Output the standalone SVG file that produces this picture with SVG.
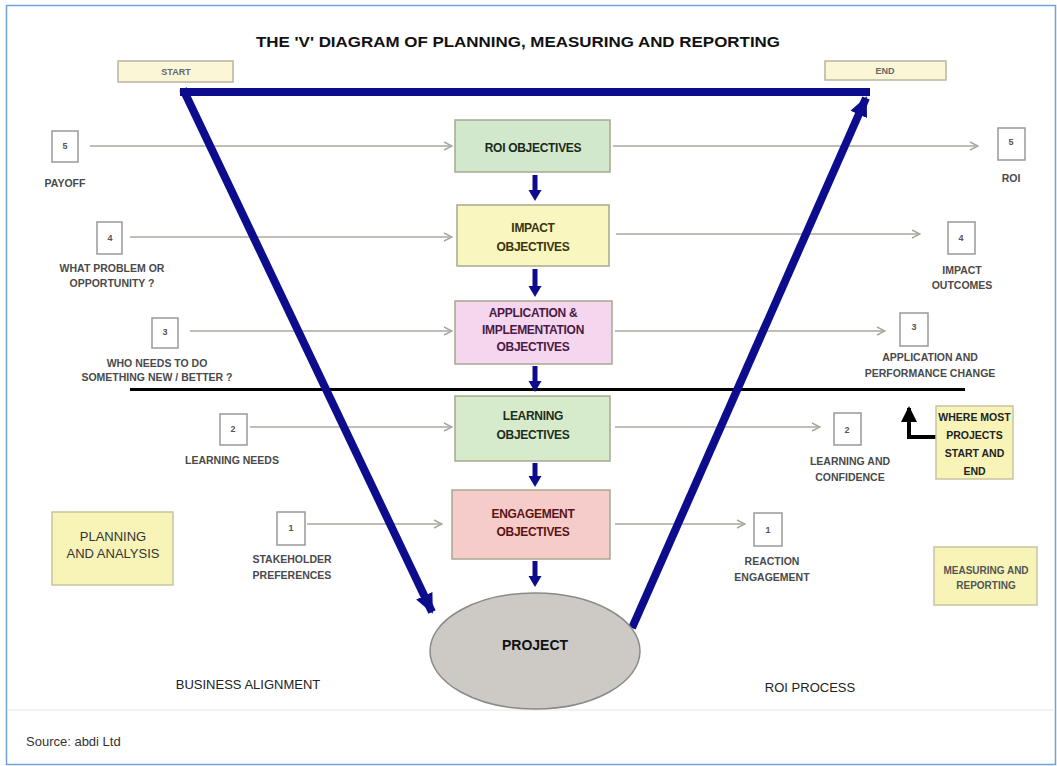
<svg xmlns="http://www.w3.org/2000/svg" width="1057" height="766" viewBox="0 0 1057 766">
<defs>
<style>
text{font-family:"Liberation Sans",Arial,sans-serif;}
.obj{stroke:#a8a890;stroke-width:1.5;}
.ot{font-size:12px;font-weight:bold;text-anchor:middle;letter-spacing:-0.3px;}
.nb{fill:#fff;stroke:#999;stroke-width:1.5;}
.nt{font-size:9px;font-weight:bold;fill:#555;text-anchor:middle;}
.lb{font-size:10.5px;font-weight:bold;fill:#4a4a4a;text-anchor:middle;}
.ga{stroke:#a8a8a0;stroke-width:1.5;fill:none;marker-end:url(#open);}
.v{stroke:#0c0c8c;stroke-width:8;fill:none;}
.da{stroke:#0c0c8c;stroke-width:5;fill:none;marker-end:url(#blue);}
.ybox{fill:#f8f4b8;stroke:#c8c4a0;stroke-width:1.5;}
.wm{font-size:10.5px;font-weight:bold;text-anchor:middle;fill:#222;}
</style>
<marker id="open" markerWidth="10" markerHeight="10" refX="9" refY="5" orient="auto" markerUnits="userSpaceOnUse">
<path d="M1,1 L9,5 L1,9" fill="none" stroke="#a8a8a0" stroke-width="1.5"/>
</marker>
<marker id="blue" markerWidth="12" markerHeight="14" refX="2" refY="7" orient="auto" markerUnits="userSpaceOnUse">
<path d="M0,0.5 L11,7 L0,13.5 Z" fill="#0c0c8c"/>
</marker>
<marker id="bigblue" markerWidth="24" markerHeight="24" refX="18" refY="12" orient="auto" markerUnits="userSpaceOnUse">
<path d="M0,3 L20,12 L0,21 Z" fill="#0c0c8c"/>
</marker>
<marker id="blk" markerWidth="20" markerHeight="20" refX="14" refY="10" orient="auto" markerUnits="userSpaceOnUse">
<path d="M0,2 L16,10 L0,18 Z" fill="#000"/>
</marker>
</defs>
<rect x="0" y="0" width="1057" height="766" fill="#fff"/>
<rect x="6.5" y="5.5" width="1049" height="759" fill="none" stroke="#6fa3d8" stroke-width="1.5"/>
<line x1="7" y1="710" x2="1055" y2="710" stroke="#eeeeee" stroke-width="1.5"/>

<text x="256" y="47" font-size="15" font-weight="bold" fill="#111" textLength="524" lengthAdjust="spacingAndGlyphs">THE 'V' DIAGRAM OF PLANNING, MEASURING AND REPORTING</text>

<g id="start"><rect x="118" y="61" width="115" height="21" fill="#fbf6d6" stroke="#b8b4a0" stroke-width="1.5"/><text x="176" y="75" font-size="9" font-weight="bold" fill="#666" text-anchor="middle">START</text></g>
<g id="end"><rect x="825" y="61" width="121" height="19" fill="#fbf6d6" stroke="#b8b4a0" stroke-width="1.5"/><text x="885" y="74" font-size="9" font-weight="bold" fill="#666" text-anchor="middle">END</text></g>

<g id="connectors">
<line class="ga" x1="90" y1="146" x2="452" y2="146"/>
<line class="ga" x1="130" y1="237" x2="452" y2="237"/>
<line class="ga" x1="190" y1="331" x2="452" y2="331"/>
<line class="ga" x1="250" y1="427" x2="452" y2="427"/>
<line class="ga" x1="307" y1="524" x2="442" y2="524"/>
<line class="ga" x1="613" y1="146" x2="978" y2="146"/>
<line class="ga" x1="616" y1="234" x2="920" y2="234"/>
<line class="ga" x1="615" y1="331" x2="885" y2="331"/>
<line class="ga" x1="615" y1="427" x2="820" y2="427"/>
<line class="ga" x1="615" y1="524" x2="745" y2="524"/>
<line x1="130" y1="389.5" x2="965" y2="389.5" stroke="#000" stroke-width="3"/>
<line class="da" x1="535" y1="175" x2="535" y2="192"/>
<line class="da" x1="535" y1="269" x2="535" y2="288"/>
<line class="da" x1="535" y1="366" x2="535" y2="383"/>
<line class="da" x1="535" y1="463" x2="535" y2="478"/>
<line class="da" x1="535" y1="561" x2="535" y2="578"/>
<line class="v" x1="180" y1="92" x2="870" y2="92"/>
<line class="v" x1="183" y1="89" x2="432" y2="612" marker-end="url(#bigblue)"/>
<line class="v" x1="632" y1="628" x2="866" y2="98" marker-end="url(#bigblue)"/>
<polyline points="937,437 909,437 909,408" fill="none" stroke="#000" stroke-width="4" marker-end="url(#blk)"/>
</g>

<g id="roi-obj"><rect class="obj" x="455" y="120" width="155" height="52" fill="#d2e8cc"/><text class="ot" x="533" y="152" fill="#1a2a1a">ROI OBJECTIVES</text></g>
<g id="impact-obj"><rect class="obj" x="457" y="205" width="152" height="61" fill="#f9f6bf"/><text class="ot" x="533" y="232" fill="#3a3410">IMPACT</text><text class="ot" x="533" y="251" fill="#3a3410">OBJECTIVES</text></g>
<g id="app-obj"><rect class="obj" x="455" y="301" width="157" height="63" fill="#f4d6ef"/><text class="ot" x="533" y="317" fill="#4a1a44">APPLICATION &amp;</text><text class="ot" x="533" y="334" fill="#4a1a44">IMPLEMENTATION</text><text class="ot" x="533" y="351" fill="#4a1a44">OBJECTIVES</text></g>
<g id="learn-obj"><rect class="obj" x="455" y="396" width="155" height="65" fill="#d6eacc"/><text class="ot" x="533" y="420" fill="#1e2e1e">LEARNING</text><text class="ot" x="533" y="439" fill="#1e2e1e">OBJECTIVES</text></g>
<g id="engage-obj"><rect class="obj" x="452" y="490" width="158" height="69" fill="#f6cccb"/><text class="ot" x="533" y="518" fill="#5a1414">ENGAGEMENT</text><text class="ot" x="533" y="536" fill="#5a1414">OBJECTIVES</text></g>
<g id="project"><ellipse cx="535" cy="651" rx="105" ry="58" fill="#cdc9c4" stroke="#8a8a8a" stroke-width="1.5"/><text x="535" y="650" font-size="14" font-weight="bold" text-anchor="middle" fill="#111">PROJECT</text></g>

<g id="l5"><rect class="nb" x="52" y="131" width="26" height="31"/><text class="nt" x="65" y="149">5</text><text class="lb" x="65" y="187">PAYOFF</text></g>
<g id="l4"><rect class="nb" x="97" y="222" width="25" height="32"/><text class="nt" x="110" y="241">4</text><text class="lb" x="112" y="272">WHAT PROBLEM OR</text><text class="lb" x="112" y="287">OPPORTUNITY ?</text></g>
<g id="l3"><rect class="nb" x="152" y="318" width="26" height="30"/><text class="nt" x="165" y="335">3</text><text class="lb" x="157" y="367">WHO NEEDS TO DO</text><text class="lb" x="157" y="381">SOMETHING NEW / BETTER ?</text></g>
<g id="l2"><rect class="nb" x="220" y="414" width="27" height="31"/><text class="nt" x="233" y="432">2</text><text class="lb" x="232" y="464">LEARNING NEEDS</text></g>
<g id="l1"><rect class="nb" x="277" y="512" width="28" height="33"/><text class="nt" x="291" y="531">1</text><text class="lb" x="292" y="563">STAKEHOLDER</text><text class="lb" x="292" y="579">PREFERENCES</text></g>

<g id="r5"><rect class="nb" x="998" y="128" width="27" height="32"/><text class="nt" x="1011" y="145">5</text><text class="lb" x="1011" y="182">ROI</text></g>
<g id="r4"><rect class="nb" x="948" y="222" width="27" height="32"/><text class="nt" x="961" y="241">4</text><text class="lb" x="962" y="274">IMPACT</text><text class="lb" x="962" y="289">OUTCOMES</text></g>
<g id="r3"><rect class="nb" x="900" y="313" width="28" height="33"/><text class="nt" x="914" y="330">3</text><text class="lb" x="930" y="361">APPLICATION AND</text><text class="lb" x="930" y="377">PERFORMANCE CHANGE</text></g>
<g id="r2"><rect class="nb" x="834" y="413" width="27" height="32"/><text class="nt" x="847" y="433">2</text><text class="lb" x="850" y="465">LEARNING AND</text><text class="lb" x="850" y="481">CONFIDENCE</text></g>
<g id="r1"><rect class="nb" x="754" y="513" width="28" height="33"/><text class="nt" x="768" y="533">1</text><text class="lb" x="772" y="565">REACTION</text><text class="lb" x="772" y="581">ENGAGEMENT</text></g>

<g id="where-most"><rect class="ybox" x="936" y="406" width="77" height="73"/><text class="wm" x="974.5" y="421">WHERE MOST</text><text class="wm" x="974.5" y="439">PROJECTS</text><text class="wm" x="974.5" y="457">START AND</text><text class="wm" x="974.5" y="475">END</text></g>
<g id="planning"><rect class="ybox" x="52" y="512" width="121" height="73"/><text x="113" y="541" font-size="13" text-anchor="middle" fill="#333">PLANNING</text><text x="113" y="558" font-size="13" text-anchor="middle" fill="#333">AND ANALYSIS</text></g>
<g id="measuring"><rect class="ybox" x="934" y="547" width="103" height="58"/><text x="986" y="574" font-size="10" font-weight="bold" text-anchor="middle" fill="#555">MEASURING AND</text><text x="986" y="589" font-size="10" font-weight="bold" text-anchor="middle" fill="#555">REPORTING</text></g>

<text x="248" y="689" font-size="13" text-anchor="middle" fill="#222">BUSINESS ALIGNMENT</text>
<text x="810" y="692" font-size="13" text-anchor="middle" fill="#222">ROI PROCESS</text>
<text x="26" y="746" font-size="13" fill="#333">Source: abdi Ltd</text>
</svg>
